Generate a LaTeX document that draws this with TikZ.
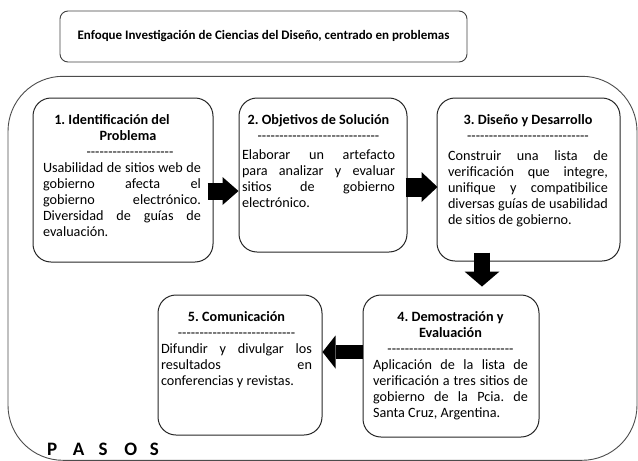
\documentclass[tikz,border=0pt]{standalone}
\usepackage{fontspec}
\setmainfont{Carlito}
\usetikzlibrary{arrows.meta}
\frenchspacing
% justified line, last line, centred line (optional shift)
\newcommand{\jl}[1]{\hbox to\hsize{#1}}
\newcommand{\lastl}[1]{\hbox to\hsize{#1\hfil}}
\newcommand{\cl}[2][0pt]{\hbox to\hsize{\hss\kern#1\relax #2\kern-#1\relax\hss}}
\newcommand{\dashrow}[1]{\foreach\i in {1,...,#1}{-\kern0pt}}
\newcommand{\blocktext}[2]{\vtop{\hsize=#1\relax\baselineskip=16pt\relax #2}}
\tikzset{
  frame/.style={draw=black!70, line width=0.9pt, rounded corners=55pt, inner sep=0pt},
  titlebox/.style={draw=black!75, line width=0.9pt, rounded corners=8pt, inner sep=0pt,
    font=\fontsize{13}{15}\selectfont\bfseries},
  stepbox/.style={draw=black!85, line width=1pt, rounded corners=18pt, inner sep=0pt},
  txt/.style={inner sep=0pt, anchor=base, font=\fontsize{14.2}{16}\selectfont},
  blk/.style={draw=black, line cap=butt},
}
\begin{document}
\begin{tikzpicture}[x=1pt, y=-1pt]
\useasboundingbox (0,0) rectangle (638,461);
% outer frame
\node[frame, minimum width=629pt, minimum height=384pt] (outer) at (322.5,268.3) {};
% title
\node[titlebox, minimum width=407pt, minimum height=51pt] (title) at (263.5,36.5)
  {Enfoque Investigación de Ciencias del Diseño, centrado en problemas};
% step boxes
\node[stepbox, minimum width=180pt, minimum height=164pt] (b1) at (123,180) {};
\node[stepbox, minimum width=168pt, minimum height=154pt] (b2) at (323,175) {};
\node[stepbox, minimum width=183pt, minimum height=163pt] (b3) at (528.5,179.5) {};
\node[stepbox, minimum width=176pt, minimum height=142pt] (b4) at (451,366) {};
\node[stepbox, minimum width=164pt, minimum height=140pt] (b5) at (240,365) {};
% texts
\node[txt] (t1) at (122,124) {\blocktext{158pt}{%
\cl[-10pt]{\bfseries 1. Identificación del}%
\cl[6pt]{\bfseries Problema}%
\cl[8pt]{\dashrow{20}}%
\jl{Usabilidad de sitios web de}%
\jl{gobierno afecta el}%
\jl{gobierno electrónico.}%
\jl{Diversidad de guías de}%
\lastl{evaluación.}}};
\node[txt] (t2) at (318.5,124) {\blocktext{153pt}{%
\cl{\bfseries 2. Objetivos de Solución}%
\cl{\dashrow{28}}\vskip3pt
\jl{Elaborar un artefacto}%
\jl{para analizar y evaluar}%
\jl{sitios de gobierno}%
\lastl{electrónico.}}};
\node[txt] (t3) at (528,124) {\blocktext{160pt}{%
\cl{\bfseries 3. Diseño y Desarrollo}%
\cl{\dashrow{28}}\vskip4pt
\jl{Construir una lista de}%
\jl{verificación que integre,}%
\jl{unifique y compatibilice}%
\jl{diversas guías de usabilidad}%
\lastl{de sitios de gobierno.}}};
\node[txt] (t4) at (450.5,321) {\blocktext{155pt}{%
\cl{\bfseries 4. Demostración y}%
\cl{\bfseries Evaluación}%
\cl{\dashrow{29}}%
\jl{Aplicación de la lista de}%
\jl{verificación a tres sitios de}%
\jl{gobierno de la Pcia. de}%
\lastl{Santa Cruz, Argentina.}}};
\node[txt] (t5) at (236.5,321) {\blocktext{151pt}{%
\cl{\bfseries 5. Comunicación}%
\cl{\dashrow{27}}%
\jl{Difundir y divulgar los}%
\jl{resultados en}%
\lastl{conferencias y revistas.}}};
% block arrows
\draw[blk, line width=17pt, -{Triangle[length=16pt,width=28pt,line width=0pt]}]
  ([shift={(-6,11)}]b1.east) -- ([shift={(0,16)}]b2.west);
\draw[blk, line width=19pt, -{Triangle[length=16pt,width=30pt,line width=0pt]}]
  ([shift={(-2,12)}]b2.east) -- ([shift={(1,7.5)}]b3.west);
\draw[blk, line width=16pt, -{Triangle[length=15pt,width=35pt,line width=0pt]}]
  ([shift={(-46.5,-9)}]b3.south) -- ([shift={(31,-8)}]b4.north);
\draw[blk, line width=14pt, -{Triangle[length=13pt,width=33pt,line width=0pt]}]
  ([shift={(0,-14)}]b4.west) -- ([shift={(0,-13)}]b5.east);
% PASOS
\node[anchor=base west, inner sep=0pt, font=\fontsize{19}{19}\selectfont\bfseries] (pasos) at (47,455)
  {\makebox[25.7pt][l]{P}\makebox[25.7pt][l]{A}\makebox[25.7pt][l]{S}\makebox[25.7pt][l]{O}S};
\end{tikzpicture}
\end{document}
